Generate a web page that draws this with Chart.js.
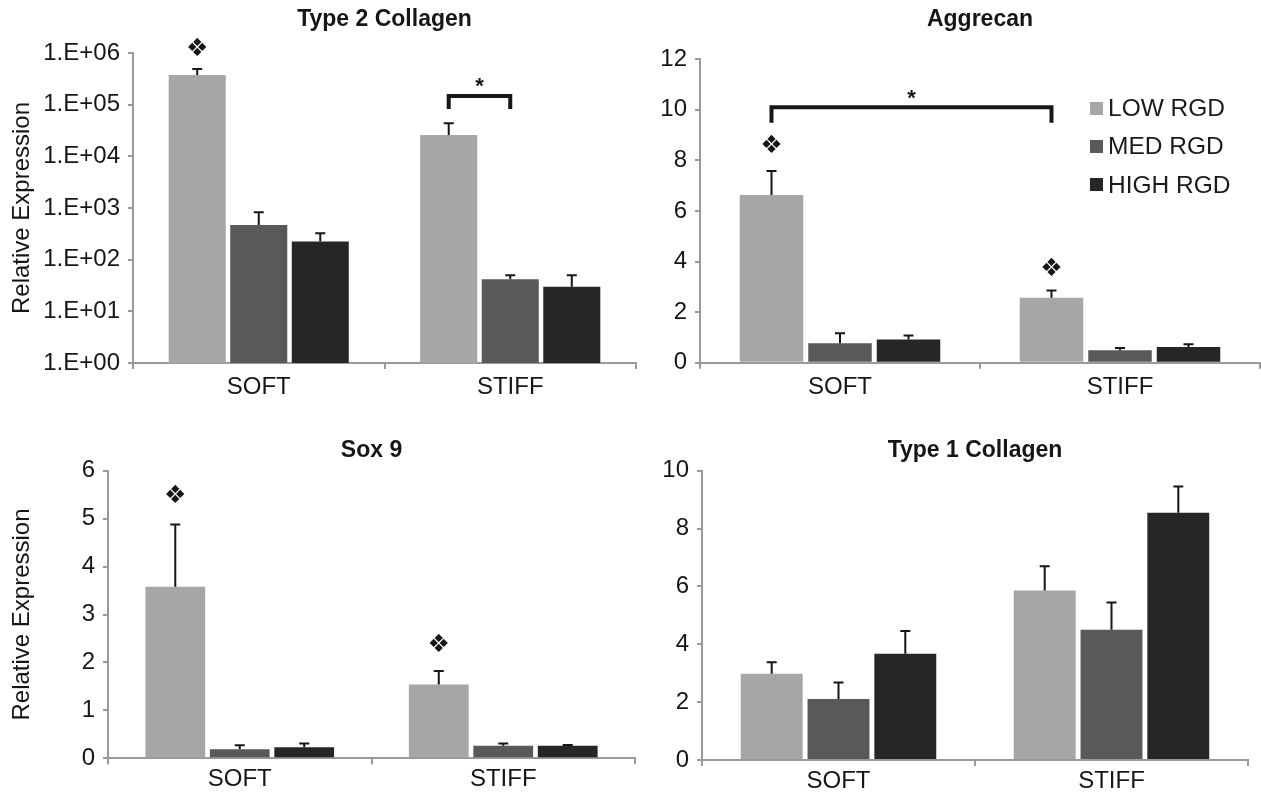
<!DOCTYPE html>
<html>
<head>
<meta charset="utf-8">
<title>RGD gene expression</title>
<script src="https://cdn.jsdelivr.net/npm/chart.js@4.4.1/dist/chart.umd.min.js"></script>
<style>
    body { margin: 0; background: #fff; }
    #wrap { position: relative; width: 1261px; height: 794px; overflow: hidden; }
    .panel { position: absolute; }
    #legend { position: absolute; left: 1090px; top: 89px; font: 24.5px "Liberation Sans", Arial, sans-serif; color: #1a1a1a; }
    #legend .item { height: 38.3px; display: flex; align-items: center; }
    #legend .sw { width: 13px; height: 13px; margin-right: 5px; }
</style>
</head>
<body>
<div id="wrap">
    <div class="panel" style="left:0;top:0;width:640px;height:400px"><canvas id="col2"></canvas></div>
    <div class="panel" style="left:640px;top:0;width:621px;height:400px"><canvas id="agg"></canvas></div>
    <div class="panel" style="left:0;top:400px;width:640px;height:394px"><canvas id="sox9"></canvas></div>
    <div class="panel" style="left:640px;top:400px;width:621px;height:394px"><canvas id="col1"></canvas></div>
    <div id="legend"></div>
</div>
<script>
// categories and groups
const categories = ["SOFT", "STIFF"];
const groups = ["LOW RGD", "MED RGD", "HIGH RGD"];

// Type 2 Collagen (log axis) - mean and +SD
const col2Low = [375000, 25900];
const col2LowSd = [115000, 17700];
const col2Med = [471, 42];
const col2MedSd = [359, 8];
const col2High = [224, 30];
const col2HighSd = [101, 20];
const logTicks = [1, 10, 100, 1000, 10000, 100000, 1000000];
const logTickLabels = ["1.E+00", "1.E+01", "1.E+02", "1.E+03", "1.E+04", "1.E+05", "1.E+06"];

// Aggrecan
const aggLow = [6.63, 2.57];
const aggLowSd = [0.95, 0.29];
const aggMed = [0.77, 0.49];
const aggMedSd = [0.39, 0.09];
const aggHigh = [0.92, 0.62];
const aggHighSd = [0.16, 0.11];

// Sox 9
const soxLow = [3.58, 1.54];
const soxLowSd = [1.30, 0.28];
const soxMed = [0.19, 0.26];
const soxMedSd = [0.08, 0.05];
const soxHigh = [0.23, 0.26];
const soxHighSd = [0.08, 0.02];

// Type 1 Collagen
const col1Low = [2.98, 5.86];
const col1LowSd = [0.40, 0.84];
const col1Med = [2.11, 4.50];
const col1MedSd = [0.57, 0.94];
const col1High = [3.67, 8.55];
const col1HighSd = [0.79, 0.90];

// significance marks (cat = category index, ds = group index, values in axis units)
const col2Diamonds = [{ cat: 0, ds: 0, y: 1190000 }];
const col2Brackets = [{ from: [1, 0], to: [1, 1], top: 147000, foot: 82600, star: 300000 }];
const aggDiamonds = [{ cat: 0, ds: 0, y: 8.54 }, { cat: 1, ds: 0, y: 3.67 }];
const aggBrackets = [{ from: [0, 0], to: [1, 0], top: 10.1, foot: 9.49, star: 10.72 }];
const soxDiamonds = [{ cat: 0, ds: 0, y: 5.46 }, { cat: 1, ds: 0, y: 2.35 }];

const barColors = ["#a6a6a6", "#595959", "#262626"];
const axisColor = "#9a9a9a";
const inkColor = "#161616";
const fontFamily = '"Liberation Sans", Arial, sans-serif';

Chart.defaults.font.family = fontFamily;
Chart.defaults.color = inkColor;

const errorBars = {
    id: "errorBars",
    afterDatasetsDraw(chart) {
        const ctx = chart.ctx;
        const yScale = chart.scales.y;
        ctx.save();
        ctx.strokeStyle = inkColor;
        ctx.lineWidth = 2;
        chart.data.datasets.forEach((ds, i) => {
            chart.getDatasetMeta(i).data.forEach((bar, j) => {
                const top = yScale.getPixelForValue(ds.data[j] + ds.sd[j]);
                ctx.beginPath();
                ctx.moveTo(bar.x, bar.y);
                ctx.lineTo(bar.x, top);
                ctx.moveTo(bar.x - 5, top);
                ctx.lineTo(bar.x + 5, top);
                ctx.stroke();
            });
        });
        ctx.restore();
    }
};

function sigMarks(diamonds, brackets) {
    return {
        id: "sigMarks",
        afterDatasetsDraw(chart) {
            const ctx = chart.ctx;
            const yScale = chart.scales.y;
            const barX = (cat, ds) => chart.getDatasetMeta(ds).data[cat].x;
            ctx.save();
            ctx.fillStyle = inkColor;
            ctx.strokeStyle = inkColor;
            ctx.textAlign = "center";
            ctx.textBaseline = "middle";
            ctx.font = '25px "DejaVu Sans"';
            diamonds.forEach(d => {
                ctx.fillText("\u2756", barX(d.cat, d.ds), yScale.getPixelForValue(d.y));
            });
            brackets.forEach(b => {
                const x1 = barX(b.from[0], b.from[1]);
                const x2 = barX(b.to[0], b.to[1]);
                const yt = yScale.getPixelForValue(b.top);
                const yf = yScale.getPixelForValue(b.foot);
                ctx.lineWidth = 4;
                ctx.lineJoin = "miter";
                ctx.beginPath();
                ctx.moveTo(x1, yf);
                ctx.lineTo(x1, yt);
                ctx.lineTo(x2, yt);
                ctx.lineTo(x2, yf);
                ctx.stroke();
                ctx.font = "bold 22px " + fontFamily;
                ctx.textBaseline = "alphabetic";
                ctx.fillText("*", (x1 + x2) / 2, yScale.getPixelForValue(b.star) + 13);
            });
            ctx.restore();
        }
    };
}

function buildPanel(p) {
    const datasets = p.series.map((s, i) => ({
        label: groups[i],
        data: s[0],
        sd: s[1],
        backgroundColor: barColors[i],
        categoryPercentage: 0.734,
        barPercentage: 0.927
    }));

    const yScale = {
        min: p.min,
        max: p.max,
        border: { color: axisColor, width: 2 },
        grid: { drawOnChartArea: false, tickLength: 5, color: axisColor, lineWidth: 2 },
        ticks: { font: { size: 24 }, padding: 8, color: inkColor },
        title: {
            display: !!p.yTitle,
            text: p.yTitle || "",
            font: { size: 24 },
            color: inkColor,
            padding: { top: 8, bottom: 0 }
        },
        afterFit(scale) { scale.width = p.yWidth; }
    };
    if (p.log) {
        yScale.type = "logarithmic";
        yScale.afterBuildTicks = scale => { scale.ticks = logTicks.map(v => ({ value: v })); };
        yScale.ticks.callback = (v, i) => logTickLabels[i];
    } else {
        yScale.ticks.stepSize = p.step;
    }

    new Chart(document.getElementById(p.id), {
        type: "bar",
        data: { labels: categories, datasets: datasets },
        options: {
            responsive: true,
            maintainAspectRatio: false,
            animation: false,
            layout: { padding: { left: 0, right: p.padRight, top: 0, bottom: 0 } },
            plugins: {
                legend: { display: false },
                tooltip: { enabled: false },
                title: {
                    display: true,
                    text: p.title,
                    fullSize: false,
                    color: inkColor,
                    font: { size: 23, weight: "bold" },
                    padding: p.titlePad
                }
            },
            scales: {
                x: {
                    offset: true,
                    border: { color: axisColor, width: 2 },
                    grid: { offset: true, drawOnChartArea: false, tickLength: 6, color: axisColor, lineWidth: 2 },
                    ticks: { font: { size: 24 }, padding: p.xPad, color: inkColor },
                    afterFit(scale) { scale.height = p.xHeight; }
                },
                y: yScale
            }
        },
        plugins: [errorBars, sigMarks(p.diamonds || [], p.brackets || [])]
    });
}

buildPanel({
    id: "col2", title: "Type 2 Collagen", log: true, min: 1, max: 1000000,
    series: [[col2Low, col2LowSd], [col2Med, col2MedSd], [col2High, col2HighSd]],
    yTitle: "Relative Expression", yWidth: 133, xHeight: 37, xPad: 4, padRight: 4,
    titlePad: { top: 6, bottom: 19.4 },
    diamonds: col2Diamonds, brackets: col2Brackets
});

buildPanel({
    id: "agg", title: "Aggrecan", min: 0, max: 12, step: 2,
    series: [[aggLow, aggLowSd], [aggMed, aggMedSd], [aggHigh, aggHighSd]],
    yWidth: 60, xHeight: 37.3, xPad: 4, padRight: 1,
    titlePad: { top: 6, bottom: 25.7 },
    diamonds: aggDiamonds, brackets: aggBrackets
});

buildPanel({
    id: "sox9", title: "Sox 9", min: 0, max: 6, step: 1,
    series: [[soxLow, soxLowSd], [soxMed, soxMedSd], [soxHigh, soxHighSd]],
    yTitle: "Relative Expression", yWidth: 108, xHeight: 35.7, xPad: 1, padRight: 5,
    titlePad: { top: 37, bottom: 6.1 },
    diamonds: soxDiamonds
});

buildPanel({
    id: "col1", title: "Type 1 Collagen", min: 0, max: 10, step: 2,
    series: [[col1Low, col1LowSd], [col1Med, col1MedSd], [col1High, col1HighSd]],
    yWidth: 62, xHeight: 34, xPad: 1, padRight: 13,
    titlePad: { top: 37, bottom: 6.1 }
});

// legend sits inside the Aggrecan plot
const legend = document.getElementById("legend");
groups.forEach((g, i) => {
    const item = document.createElement("div");
    item.className = "item";
    item.innerHTML = `<span class="sw" style="background:${barColors[i]}"></span><span>${g}</span>`;
    legend.appendChild(item);
});
</script>
</body>
</html>
